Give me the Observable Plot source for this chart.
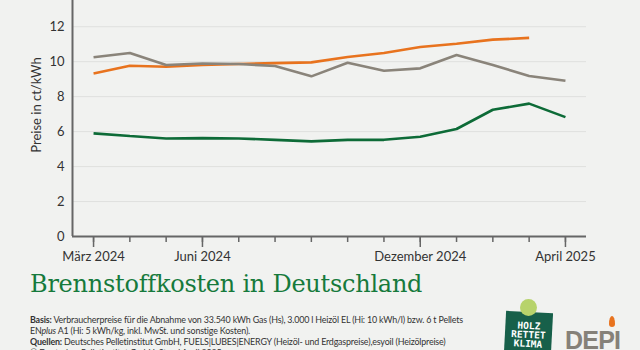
<!DOCTYPE html>
<html><head><meta charset="utf-8">
<script src="https://cdn.jsdelivr.net/npm/d3@7"></script>
<script src="https://cdn.jsdelivr.net/npm/@observablehq/plot@0.6"></script>
<style>
html,body{margin:0;padding:0;background:#f1f2f0;}
#wrap{position:relative;width:640px;height:350px;overflow:hidden;background:#f1f2f0;font-family:Lato,"Liberation Sans",sans-serif;}
#chart{position:absolute;left:0;top:0;}
#ylab{position:absolute;left:36px;top:105px;font-size:13px;color:#333;white-space:nowrap;transform:translate(-50%,-50%) rotate(-90deg);}
#title{position:absolute;left:30px;top:270px;font-family:"DejaVu Serif",serif;font-size:24px;line-height:28px;color:#167a3c;white-space:nowrap;letter-spacing:-0.25px;}
#foot{position:absolute;left:30px;top:314px;font-size:10px;line-height:11px;color:#333;white-space:nowrap;letter-spacing:-0.2px;transform:scaleX(0.89);transform-origin:0 0;}
#hrk{position:absolute;left:505px;top:312px;width:47px;height:42px;background:#17604a;transform:rotate(3deg);color:#fff;font-family:"DejaVu Sans Mono",monospace;font-weight:bold;font-size:9.5px;line-height:9px;text-align:center;padding-top:9px;box-sizing:border-box;}
#tree{position:absolute;left:520px;top:299px;width:17px;height:17px;border-radius:50%;background:#b7d36b;z-index:2;}
#depi{position:absolute;left:565px;top:328px;font-family:"Liberation Sans",sans-serif;font-weight:bold;font-size:25px;line-height:25px;color:#858179;letter-spacing:-0.8px;}
#flame{position:absolute;left:609px;top:316px;width:6px;height:11px;background:#e8731e;border-radius:50% 50% 50% 50%/70% 70% 30% 30%;}
</style></head>
<body><div id="wrap"><div id="chart"></div>
<div id="ylab">Preise in ct/kWh</div>
<div id="title">Brennstoffkosten in Deutschland</div>
<div id="foot"><b>Basis:</b> Verbraucherpreise für die Abnahme von 33.540 kWh Gas (Hs), 3.000 l Heizöl EL (Hi: 10 kWh/l) bzw. 6 t Pellets<br>EN<i>plus</i> A1 (Hi: 5 kWh/kg, inkl. MwSt. und sonstige Kosten).<br><b>Quellen:</b> Deutsches Pelletinstitut GmbH, FUELS|LUBES|ENERGY (Heizöl- und Erdgaspreise),esyoil (Heizölpreise)<br>© Deutsches Pelletinstitut GmbH, Stand April 2025</div>
<div id="hrk">HOLZ<br>RETTET<br>KLIMA</div>
<div id="tree"></div>
<div id="flame"></div>
<div id="depi">DEPI</div>
</div>
<script>
const months = ["2024-03","2024-04","2024-05","2024-06","2024-07","2024-08","2024-09","2024-10","2024-11","2024-12","2025-01","2025-02","2025-03","2025-04"];
const tickLabels = {"2024-03":"März 2024","2024-06":"Juni 2024","2024-12":"Dezember 2024","2025-04":"April 2025"};
const pellets = [5.9,5.75,5.61,5.63,5.61,5.53,5.44,5.53,5.53,5.71,6.15,7.25,7.6,6.83];
const heizoel = [10.25,10.5,9.81,9.9,9.87,9.75,9.16,9.94,9.48,9.62,10.38,9.81,9.18,8.91];
const erdgas  = [9.33,9.77,9.71,9.81,9.87,9.92,9.96,10.27,10.5,10.84,11.03,11.26,11.36,null];
const yTicks = [0,2,4,6,8,10,12];

const rows = [];
months.forEach((m,i)=>{
  rows.push({i, m, v: erdgas[i], s:"Erdgas"});
  rows.push({i, m, v: heizoel[i], s:"Heizöl"});
  rows.push({i, m, v: pellets[i], s:"Pellets"});
});
const data = rows.filter(d=>d.v!=null);
const labeled = months.map((m,i)=>i).filter(i=>tickLabels[months[i]]);
const xMin = -0.58, xMax = months.length - 1 + 0.58;

const chart = Plot.plot({
  width:640, height:270,
  marginLeft:72, marginRight:54, marginTop:0, marginBottom:34,
  style:{background:"transparent", fontFamily:"Lato, sans-serif", fontSize:"13px", color:"#333"},
  x:{type:"linear", domain:[xMin, xMax]},
  y:{domain:[0,13.5]},
  color:{domain:["Erdgas","Heizöl","Pellets"], range:["#e8731e","#8a847a","#0d6b37"]},
  marks:[
    Plot.gridY(yTicks.filter(d=>d>0), {stroke:"#dfe0de", strokeOpacity:1, strokeWidth:1}),
    Plot.axisY(yTicks, {tickSize:0, tickPadding:8, label:null, fontSize:13}),
    Plot.axisX(months.map((m,i)=>i), {tickSize:6, tickFormat:()=>"", stroke:"#666", strokeWidth:1.5, label:null}),
    Plot.axisX(labeled, {tickSize:11, tickPadding:4, tickFormat:i=>tickLabels[months[i]], stroke:"#666", strokeWidth:1.5, label:null, fontSize:13}),
    Plot.ruleY([0], {stroke:"#666", strokeWidth:2}),
    Plot.ruleX([xMin], {stroke:"#666", strokeWidth:2}),
    Plot.line(data, {x:"i", y:"v", z:"s", stroke:"s", strokeWidth:2.6, strokeLinejoin:"miter", strokeLinecap:"butt"})
  ]
});
document.getElementById("chart").appendChild(chart);
</script>
</body></html>
